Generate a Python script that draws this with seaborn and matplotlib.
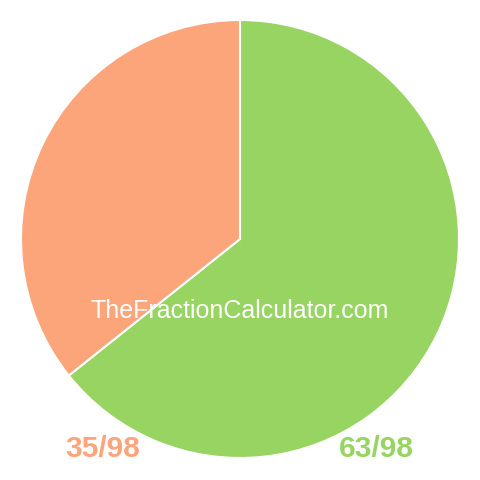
import matplotlib
matplotlib.use("Agg")
import matplotlib.pyplot as plt
import seaborn as sns

# data
labels = ["63/98", "35/98"]
values = [63, 35]
colors = ["#98d462", "#fca47a"]
watermark = "TheFractionCalculator.com"

sns.set_theme(style="white")
plt.rcParams['font.family'] = ['Liberation Sans', 'DejaVu Sans']

fig = plt.figure(figsize=(4.8, 4.8), dpi=100)
ax = fig.add_axes([0, 0, 1, 1])

# pie in pixel coords (y flipped, so counterclock=True draws clockwise on screen)
ax.pie(values, colors=colors, startangle=-90, counterclock=True,
       center=(240, 239), radius=219, frame=True,
       wedgeprops=dict(edgecolor="white", linewidth=1.5))
ax.set_xlim(0, 480)
ax.set_ylim(480, 0)
ax.set_aspect("equal")
ax.axis("off")

ax.text(240, 311, watermark, color="white", fontsize=18,
        ha="center", va="center")
ax.text(376, 449, labels[0], color=colors[0], fontsize=21.5,
        fontweight="bold", ha="center", va="center")
ax.text(103, 449, labels[1], color=colors[1], fontsize=21.5,
        fontweight="bold", ha="center", va="center")

fig.savefig("out.png", dpi=100)
